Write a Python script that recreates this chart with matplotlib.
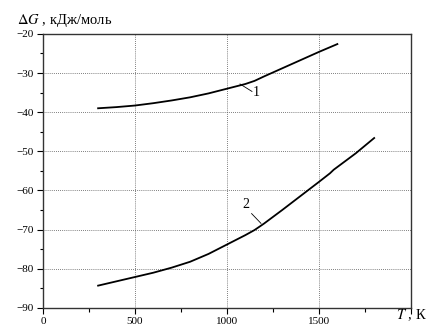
import matplotlib.pyplot as plt
from matplotlib.ticker import MultipleLocator

plt.rcParams['font.family'] = ['Liberation Serif', 'DejaVu Serif']
plt.rcParams['mathtext.fontset'] = 'stix'

# кривая 1
T1 = [300, 400, 500, 600, 700, 800, 900, 1000, 1100, 1150, 1200, 1300, 1400, 1500, 1600]
dG1 = [-39.0, -38.7, -38.3, -37.7, -37.0, -36.2, -35.2, -34.0, -32.8, -32.0, -30.9,
       -28.8, -26.7, -24.6, -22.6]

# кривая 2
T2 = [300, 400, 500, 600, 700, 800, 900, 1000, 1100, 1150, 1200, 1300, 1400, 1500,
      1560, 1580, 1700, 1800]
dG2 = [-84.3, -83.2, -82.1, -81.0, -79.7, -78.2, -76.2, -73.8, -71.4, -70.1, -68.5,
       -65.0, -61.4, -57.8, -55.6, -54.7, -50.5, -46.6]

fig = plt.figure(figsize=(4.29, 3.29), dpi=100)
ax = fig.add_axes([0.100, 0.064, 0.858, 0.833])

ax.plot(T1, dG1, color='black', lw=1.3)
ax.plot(T2, dG2, color='black', lw=1.3)

# подписи кривых
ax.plot([1071, 1136], [-32.8, -34.7], color='black', lw=0.6)
ax.text(1161, -34.9, '1', ha='center', va='center', fontsize=10)
ax.plot([1134, 1185], [-65.9, -68.4], color='black', lw=0.6)
ax.text(1105, -63.7, '2', ha='center', va='center', fontsize=10)

ax.set_xlim(0, 2000)
ax.set_ylim(-90, -20)
ax.xaxis.set_minor_locator(MultipleLocator(250))
ax.yaxis.set_major_locator(MultipleLocator(10))
ax.yaxis.set_minor_locator(MultipleLocator(5))
ax.set_xticks([0, 500, 1000, 1500, 2000])
ax.set_xticklabels(['0', '500', '1000', '1500', ''])
ax.set_yticklabels(['\u2212%d' % abs(v) for v in ax.get_yticks()])

ax.tick_params(which='both', direction='out', labelsize=8, width=0.8, pad=2)
ax.tick_params(which='major', length=4.3)
ax.tick_params(axis='x', which='minor', length=3)
ax.tick_params(axis='y', which='minor', length=2.2)
ax.grid(True, which='major', ls=(0, (1, 1.5)), color='#555555', lw=0.6)

for s in ax.spines.values():
    s.set_color('#333333')
    s.set_linewidth(1.0)

fig.text(0.040, 0.939, r'$\Delta G$ , кДж/моль', fontsize=10.5, va='center', ha='left')
fig.text(0.995, 0.043, r'$T$ , К', fontsize=10.5, va='center', ha='right')

plt.savefig('out.png', dpi=100)
